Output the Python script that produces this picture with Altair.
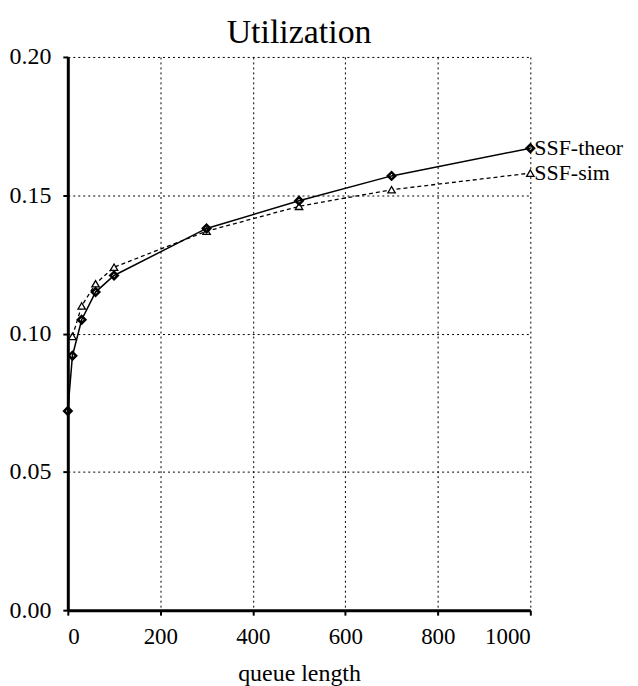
import altair as alt
import pandas as pd

# data
qlen_theor = [0, 10, 30, 60, 100, 300, 500, 700, 1000]
util_theor = [0.072, 0.092, 0.105, 0.115, 0.121, 0.138, 0.148, 0.157, 0.167]
qlen_sim = [10, 30, 60, 100, 300, 500, 700, 1000]
util_sim = [0.099, 0.110, 0.118, 0.124, 0.137, 0.146, 0.152, 0.158]
series_labels = ["SSF-theor", "SSF-sim"]
x_ticks = [0, 200, 400, 600, 800, 1000]
y_ticks = [0.00, 0.05, 0.10, 0.15, 0.20]
chart_title = ["Utilization"]

FONT = "Liberation Serif"

theor = pd.DataFrame({"q": qlen_theor, "u": util_theor})
sim = pd.DataFrame({"q": qlen_sim, "u": util_sim})
ends = pd.DataFrame({
    "q": [qlen_theor[-1], qlen_sim[-1]],
    "u": [util_theor[-1], util_sim[-1]],
    "label": series_labels,
})
title_df = pd.DataFrame({"t": chart_title})

xs = alt.Scale(domain=[0, 1000], nice=False)
ys = alt.Scale(domain=[0, 0.2], nice=False)

x_enc = alt.X("q:Q", scale=xs, axis=alt.Axis(
    values=x_ticks, title="queue length", format="d",
    grid=True, gridColor="black", gridDash=[2, 3], gridWidth=1, gridOpacity=1,
    domainColor="black", domainWidth=3, tickColor="black", tickWidth=2, tickSize=5,
    labelFont=FONT, labelFontSize=23, labelColor="black", labelPadding=10,
    titleFont=FONT, titleFontSize=24, titleFontWeight="normal", titleColor="black",
    titlePadding=14,
))
y_enc = alt.Y("u:Q", scale=ys, axis=alt.Axis(
    values=y_ticks, title=None, format=".2f",
    grid=True, gridColor="black", gridDash=[2, 3], gridWidth=1, gridOpacity=1,
    domainColor="black", domainWidth=3, tickColor="black", tickWidth=2, tickSize=5,
    labelFont=FONT, labelFontSize=24, labelColor="black", labelPadding=12,
))

line_t = alt.Chart(theor).mark_line(color="black", strokeWidth=1.5).encode(x=x_enc, y=y_enc)
pts_t = alt.Chart(theor).mark_point(shape="diamond", size=55, filled=False,
                                    color="black", strokeWidth=2.5, opacity=1).encode(x="q:Q", y="u:Q")
line_s = alt.Chart(sim).mark_line(color="black", strokeWidth=1.3, strokeDash=[4, 3]).encode(x="q:Q", y="u:Q")
pts_s = alt.Chart(sim).mark_point(shape="triangle-up", size=55, filled=True, fill="white",
                                  stroke="black", strokeWidth=1.3, opacity=1).encode(x="q:Q", y="u:Q")
labels = alt.Chart(ends).mark_text(align="left", baseline="middle", dx=4, font=FONT,
                                   fontSize=22, color="black").encode(x="q:Q", y="u:Q", text="label:N")
title_mark = alt.Chart(title_df).mark_text(align="center", baseline="alphabetic", font=FONT,
                                           fontSize=34, color="black").encode(
    x=alt.value(232), y=alt.value(-14), text="t:N")

chart = alt.layer(line_s, line_t, pts_s, pts_t, labels, title_mark).properties(
    width=464, height=555,
    autosize=alt.AutoSizeParams(type="none"),
    padding={"left": 60, "top": 48, "right": 100, "bottom": 86},
).configure_view(stroke=None)

chart.save("out.html", embed_options={"renderer": "svg", "actions": False})
